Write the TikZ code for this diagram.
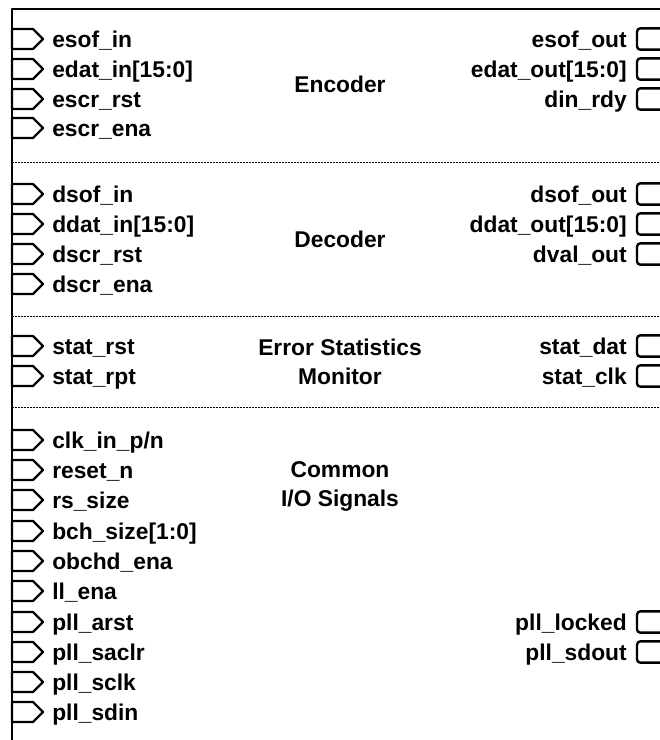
\documentclass[tikz,border=0pt]{standalone}
\usepackage{fontspec}
\setmainfont{Liberation Sans}
\usetikzlibrary{shapes.symbols,positioning}

\begin{document}
\begin{tikzpicture}[x=0.75pt, y=-0.75pt, line join=round]
\tikzstyle{every node} = [font=\bfseries\fontsize{17.1}{21.75}\selectfont]
\tikzstyle{inport} = [draw, line width=1.8pt, signal, signal to=east, signal pointer angle=90,
	minimum width=23.25pt, minimum height=15pt, inner sep=0pt, outer sep=0pt, anchor=west]
\tikzstyle{outport} = [draw, line width=1.8pt, rounded corners=2.5pt,
	minimum width=30pt, minimum height=16pt, inner sep=0pt, outer sep=0pt, anchor=west]
\tikzstyle{txt} = [inner sep=0pt, text height=12pt, text depth=0pt]
\tikzstyle{sep} = [line width=0.75pt, dash pattern=on 1.5pt off 0.75pt]
\useasboundingbox (0,0) rectangle (660,740);
\clip (0,0) rectangle (660,740);
% frame
\draw[line width=2.2pt] (680,9) -- (12,9) -- (12,760);
\draw[sep] (12,162) -- (680,162)
	(12,316) -- (680,316)
	(12,407) -- (680,407);
% encoder
\node[inport] (esofi) at (12,39) {};
\node[inport] (edati) at (12,69) {};
\node[inport] (escrr) at (12,99) {};
\node[inport] (escre) at (12,128) {};
\node[txt, right=6.75pt of esofi] (lesofi) {esof\_in};
\node[txt, right=6.75pt of edati] (ledati) {edat\_in[15:0]};
\node[txt, right=6.75pt of escrr] (lescrr) {escr\_rst};
\node[txt, right=6.75pt of escre] (lescre) {escr\_ena};
\node[outport] (esofo) at (637,39) {};
\node[outport] (edato) at (637,69) {};
\node[outport] (dinrdy) at (637,99) {};
\node[txt, left=7.5pt of esofo] (lesofo) {esof\_out};
\node[txt, left=7.5pt of edato] (ledato) {edat\_out[15:0]};
\node[txt, left=7.5pt of dinrdy] (ldinrdy) {din\_rdy};
\node (enc) at (340,84) {Encoder};
% decoder
\node[inport] (dsofi) at (12,194) {};
\node[inport] (ddati) at (12,224) {};
\node[inport] (dscrr) at (12,254) {};
\node[inport] (dscre) at (12,284) {};
\node[txt, right=6.75pt of dsofi] (ldsofi) {dsof\_in};
\node[txt, right=6.75pt of ddati] (lddati) {ddat\_in[15:0]};
\node[txt, right=6.75pt of dscrr] (ldscrr) {dscr\_rst};
\node[txt, right=6.75pt of dscre] (ldscre) {dscr\_ena};
\node[outport] (dsofo) at (637,194) {};
\node[outport] (ddato) at (637,224) {};
\node[outport] (dvalo) at (637,254) {};
\node[txt, left=7.5pt of dsofo] (ldsofo) {dsof\_out};
\node[txt, left=7.5pt of ddato] (lddato) {ddat\_out[15:0]};
\node[txt, left=7.5pt of dvalo] (ldvalo) {dval\_out};
\node (dec) at (340,239) {Decoder};
% error statistics
\node[inport] (statr) at (12,346) {};
\node[inport] (statp) at (12,376) {};
\node[txt, right=6.75pt of statr] (lstatr) {stat\_rst};
\node[txt, right=6.75pt of statp] (lstatp) {stat\_rpt};
\node[outport] (statd) at (637,346) {};
\node[outport] (statc) at (637,376) {};
\node[txt, left=7.5pt of statd] (lstatd) {stat\_dat};
\node[txt, left=7.5pt of statc] (lstatc) {stat\_clk};
\node[align=center] (esm) at (340,362) {Error Statistics\\Monitor};
% common
\node[inport] (clkin) at (12,440) {};
\node[inport] (rstn) at (12,470) {};
\node[inport] (rssz) at (12,500) {};
\node[inport] (bchsz) at (12,531) {};
\node[inport] (obchd) at (12,561) {};
\node[inport] (llena) at (12,591) {};
\node[inport] (parst) at (12,622) {};
\node[inport] (psaclr) at (12,652) {};
\node[inport] (psclk) at (12,682) {};
\node[inport] (psdin) at (12,712) {};
\node[txt, right=6.75pt of clkin] (lclkin) {clk\_in\_p/n};
\node[txt, right=6.75pt of rstn] (lrstn) {reset\_n};
\node[txt, right=6.75pt of rssz] (lrssz) {rs\_size};
\node[txt, right=6.75pt of bchsz] (lbchsz) {bch\_size[1:0]};
\node[txt, right=6.75pt of obchd] (lobchd) {obchd\_ena};
\node[txt, right=6.75pt of llena] (lllena) {ll\_ena};
\node[txt, right=6.75pt of parst] (lparst) {pll\_arst};
\node[txt, right=6.75pt of psaclr] (lpsaclr) {pll\_saclr};
\node[txt, right=6.75pt of psclk] (lpsclk) {pll\_sclk};
\node[txt, right=6.75pt of psdin] (lpsdin) {pll\_sdin};
\node[outport] (plock) at (637,622) {};
\node[outport] (psdout) at (637,652) {};
\node[txt, left=7.5pt of plock] (lplock) {pll\_locked};
\node[txt, left=7.5pt of psdout] (lpsdout) {pll\_sdout};
\node[align=center] (cio) at (340,486) {Common\\I/O Signals};
\end{tikzpicture}
\end{document}
